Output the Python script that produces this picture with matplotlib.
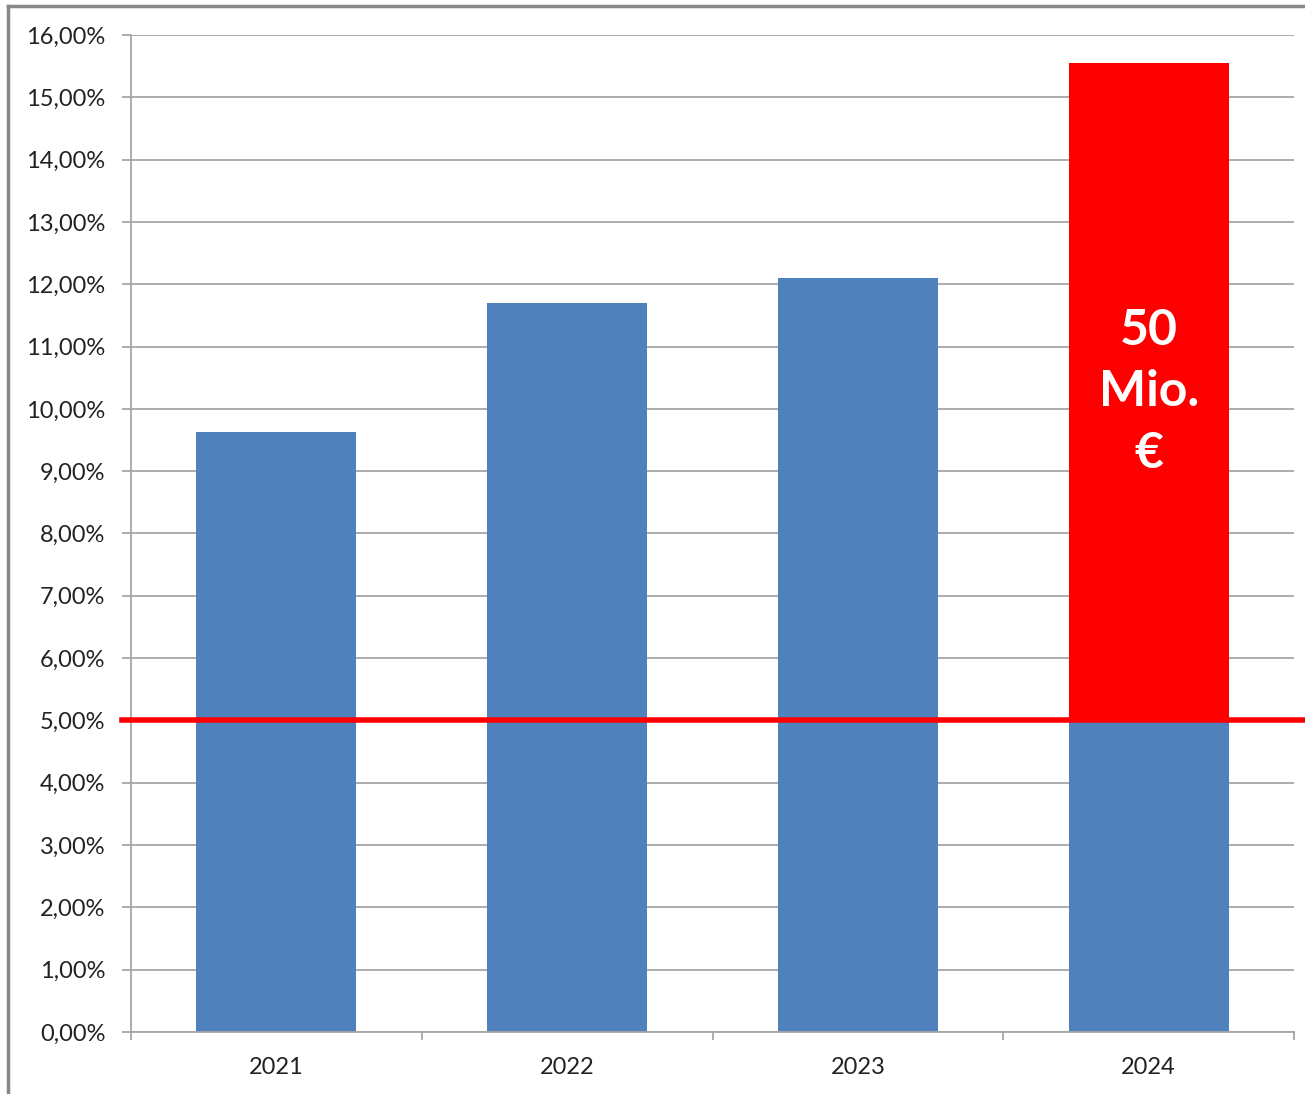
import numpy as np
import matplotlib.pyplot as plt
from matplotlib.ticker import FuncFormatter, FixedLocator
from matplotlib.lines import Line2D

plt.rcParams['font.family'] = ['Lato', 'DejaVu Sans']

# Daten
years = ['2021', '2022', '2023', '2024']
values = [9.63, 11.70, 12.10, 15.55]
threshold = 5.0
highlight_year = '2024'
highlight_label = '50\nMio.\n€'

blue = '#4F81BD'
red = '#FF0000'
grid_col = '#A6A6A6'

fig = plt.figure(figsize=(13.05, 10.94), dpi=100)
ax = fig.add_axes([0.1004, 0.0567, 0.8912, 0.9113])

x = np.arange(len(years))
bar_w = 0.55

# blaue Balken (beim hervorgehobenen Jahr nur bis zur Schwelle)
blue_vals = [threshold if y == highlight_year else v for y, v in zip(years, values)]
ax.bar(x, blue_vals, width=bar_w, color=blue, zorder=2)

# roter Teil oberhalb der Schwelle
hi = years.index(highlight_year)
ax.bar(x[hi], values[hi] - threshold, bottom=threshold, width=bar_w,
       color=red, zorder=3)
ax.text(x[hi], (values[hi] + threshold) / 2, highlight_label,
        ha='center', va='center', color='white', fontsize=36,
        fontweight='bold', linespacing=1.45, zorder=4)

# Schwellenlinie
ax.plot([-0.008, 1.008], [threshold, threshold], color=red, lw=4,
        transform=ax.get_yaxis_transform(), clip_on=False, zorder=5)

ax.set_xlim(-0.5, len(years) - 0.5)
ax.set_ylim(0, 16)
ax.set_yticks(np.arange(0, 17, 1))
ax.yaxis.set_major_formatter(FuncFormatter(lambda v, p: f'{v:.2f}%'.replace('.', ',')))
ax.yaxis.grid(True, color=grid_col, lw=1.3, zorder=0)

ax.set_xticks(x)
ax.set_xticklabels(years)
ax.xaxis.set_minor_locator(FixedLocator(np.arange(-0.5, len(years), 1)))
ax.tick_params(axis='x', which='major', length=0, pad=18, labelsize=17, colors='#222222')
ax.tick_params(axis='x', which='minor', length=6, width=1.3, color=grid_col)
ax.tick_params(axis='y', length=6.5, width=1.3, color=grid_col, pad=12,
               labelsize=17, labelcolor='#222222')

for s in ['top', 'right']:
    ax.spines[s].set_visible(False)
for s in ['left', 'bottom']:
    ax.spines[s].set_color(grid_col)
    ax.spines[s].set_linewidth(1.3)

# grauer Rahmen oben und links
fig.add_artist(Line2D([8 / 1305, 8 / 1305], [0, 1 - 6 / 1094], color='#888888', lw=2.5))
fig.add_artist(Line2D([8 / 1305, 1], [1 - 6 / 1094, 1 - 6 / 1094], color='#888888', lw=2.5))

fig.savefig('out.png', dpi=100)
